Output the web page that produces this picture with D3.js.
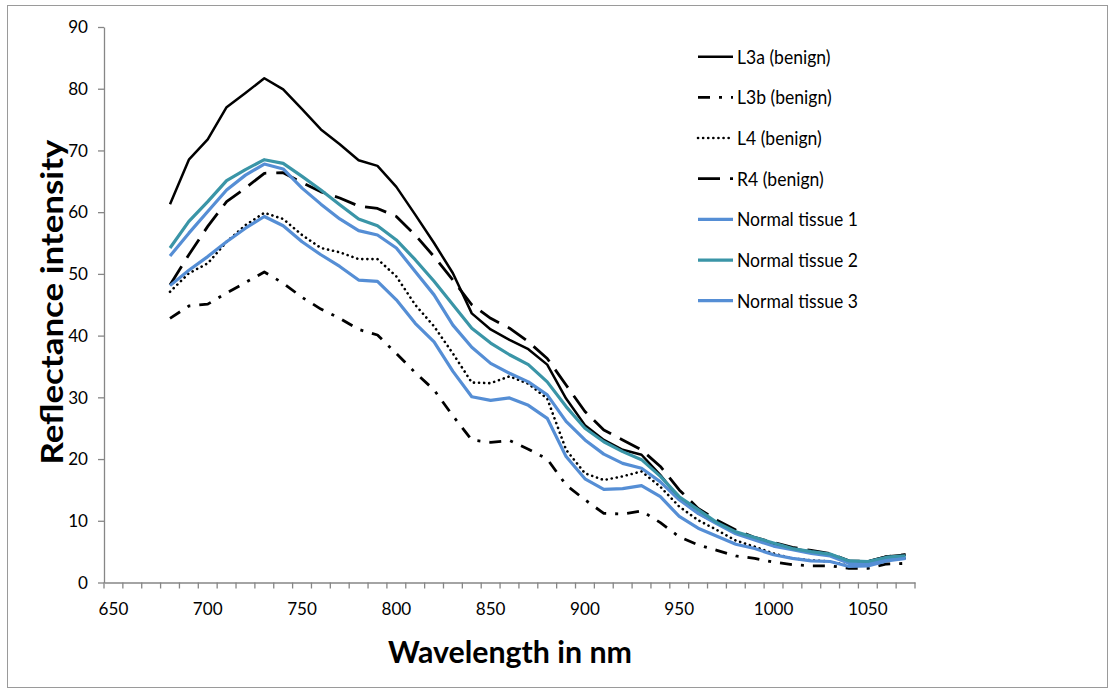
<!DOCTYPE html>
<html>
<head>
<meta charset="utf-8">
<script src="https://cdn.jsdelivr.net/npm/d3@7"></script>
<style>
  body { margin: 0; background: #fff; }
  text { font-family: Lato, "Open Sans", "DejaVu Sans", sans-serif; fill: #000; }
</style>
</head>
<body>
<svg id="chart" width="1115" height="691"></svg>
<script>
// Category axis (nm)
const categories = [650, 660, 670, 680, 690, 700, 710, 720, 730, 740, 750, 760, 770, 780, 790,
  800, 810, 820, 830, 840, 850, 860, 870, 880, 890, 900, 910, 920, 930, 940, 950, 960, 970,
  980, 990, 1000, 1010, 1020, 1030, 1040, 1050, 1060, 1070];
const xTickLabels = [650, 700, 750, 800, 850, 900, 950, 1000, 1050];
const yTickValues = [0, 10, 20, 30, 40, 50, 60, 70, 80, 90];

// Measured wavelengths
const wavelengths = [680, 690, 700, 710, 720, 730, 740, 750, 760, 770, 780, 790, 800, 810, 820,
  830, 840, 850, 860, 870, 880, 890, 900, 910, 920, 930, 940, 950, 960, 970, 980, 990, 1000,
  1010, 1020, 1030, 1040, 1050, 1060, 1070];

// Reflectance intensity per sample
const l3a = [61.3, 68.5, 71.8, 77.0, 79.3, 81.7, 79.9, 76.7, 73.4, 71.0, 68.4, 67.5, 64.1, 59.6,
  55.0, 50.1, 43.6, 41.0, 39.3, 37.8, 35.3, 29.8, 25.5, 23.1, 21.5, 20.7, 17.4, 13.6, 11.2, 9.6,
  8.0, 7.2, 6.2, 5.5, 5.0, 4.6, 3.5, 3.4, 4.2, 4.5];
const l3b = [42.8, 44.8, 45.1, 46.9, 48.6, 50.3, 48.5, 46.2, 44.3, 42.8, 41.0, 40.1, 37.1, 34.0,
  31.2, 27.0, 23.1, 22.7, 23.0, 21.6, 20.0, 15.8, 13.4, 11.2, 11.1, 11.6, 9.7, 7.4, 6.1, 5.2,
  4.3, 3.9, 3.3, 2.9, 2.7, 2.7, 2.3, 2.3, 3.0, 3.1];
const l4 = [47.1, 50.1, 51.7, 55.2, 57.9, 59.9, 58.9, 56.3, 54.2, 53.5, 52.4, 52.4, 49.6, 45.0,
  41.5, 37.1, 32.4, 32.3, 33.4, 32.2, 29.8, 21.5, 17.7, 16.6, 17.2, 18.0, 15.5, 12.3, 10.1, 8.5,
  6.8, 5.8, 4.7, 3.9, 3.6, 3.4, 2.7, 2.8, 3.6, 3.9];
const r4 = [48.2, 53.1, 57.7, 61.7, 63.9, 66.3, 66.4, 64.8, 63.3, 62.3, 61.0, 60.6, 59.3, 56.3,
  52.8, 49.0, 45.0, 42.8, 41.2, 39.0, 36.3, 32.0, 27.7, 24.7, 23.1, 21.5, 18.8, 15.0, 12.0, 10.1,
  8.5, 7.3, 6.5, 5.7, 5.2, 4.7, 3.5, 3.4, 4.2, 4.5];
const normal1 = [52.9, 56.6, 60.1, 63.6, 66.0, 67.8, 67.0, 63.9, 61.3, 58.9, 57.0, 56.3, 54.2,
  50.4, 46.6, 41.7, 38.1, 35.5, 33.9, 32.5, 30.4, 26.1, 23.1, 20.8, 19.3, 18.5, 16.3, 13.4, 11.2,
  9.5, 7.9, 6.9, 5.9, 5.3, 4.7, 4.3, 3.1, 3.0, 3.8, 4.1];
const normal2 = [54.2, 58.5, 61.7, 65.1, 66.9, 68.5, 67.9, 65.8, 63.6, 61.2, 58.9, 57.8, 55.5,
  52.3, 48.8, 45.0, 41.2, 38.8, 36.9, 35.3, 32.5, 28.5, 25.0, 22.8, 21.2, 19.9, 17.2, 13.9, 11.8,
  9.7, 8.2, 7.3, 6.4, 5.5, 5.0, 4.6, 3.5, 3.4, 4.1, 4.3];
const normal3 = [48.1, 50.6, 52.8, 55.2, 57.4, 59.3, 57.8, 55.2, 53.1, 51.2, 49.0, 48.8, 45.8,
  42.0, 39.0, 34.2, 30.1, 29.5, 29.9, 28.7, 26.6, 20.4, 16.8, 15.1, 15.2, 15.7, 13.9, 10.7, 8.8,
  7.5, 6.2, 5.5, 4.5, 3.9, 3.5, 3.4, 2.6, 2.7, 3.5, 3.9];

const seriesNames = ["L3a (benign)", "L3b (benign)", "L4 (benign)", "R4 (benign)",
  "Normal tissue 1", "Normal tissue 2", "Normal tissue 3"];
const seriesValues = [l3a, l3b, l4, r4, normal1, normal2, normal3];

// Line styles
const styles = [
  { color: "#000000", width: 2.5, dash: null, cap: "butt" },
  { color: "#000000", width: 2.8, dash: "12,9,3,9", cap: "butt" },
  { color: "#000000", width: 2.6, dash: "0.1,5", cap: "round" },
  { color: "#000000", width: 2.8, dash: "22,10", cap: "butt" },
  { color: "#558ED5", width: 3.2, dash: null, cap: "butt" },
  { color: "#3A95A7", width: 3.2, dash: null, cap: "butt" },
  { color: "#558ED5", width: 3.2, dash: null, cap: "butt" }
];

const svg = d3.select("#chart");
const axisColor = "#868686";

// Outer frame
svg.append("rect")
  .attr("x", 7.5).attr("y", 5.5)
  .attr("width", 1100).attr("height", 682)
  .attr("fill", "#fff").attr("stroke", "#9a9a9a").attr("stroke-width", 1);

const x = d3.scaleBand().domain(categories).range([104, 915]).padding(0);
const y = d3.scaleLinear().domain([0, 90]).range([582.5, 27]);
const cx = c => x(c) + x.bandwidth() / 2;

// Horizontal squeeze for text, applied about the anchor point
function squeeze(sel, sx, ax) {
  sel.attr("transform", `translate(${ax},0) scale(${sx},1) translate(${-ax},0)`);
}

// Y axis
const yAxis = svg.append("g")
  .attr("transform", "translate(104,0)")
  .call(d3.axisLeft(y).tickValues(yTickValues).tickSize(6).tickSizeOuter(0).tickPadding(10));
yAxis.select(".domain").attr("stroke", axisColor).attr("stroke-width", 1.3);
yAxis.selectAll(".tick line").attr("stroke", axisColor).attr("stroke-width", 1.3);
yAxis.selectAll(".tick text")
  .style("font-size", "18px").attr("fill", "#000")
  .each(function () { squeeze(d3.select(this), 0.95, -16); });

// X axis: line and labels
const xAxis = svg.append("g")
  .attr("transform", "translate(0,582.5)")
  .call(d3.axisBottom(x).tickValues(xTickLabels).tickSize(0).tickSizeOuter(0).tickPadding(0));
xAxis.select(".domain").attr("stroke", axisColor).attr("stroke-width", 1.3);
xAxis.selectAll(".tick text")
  .style("font-size", "18px").attr("fill", "#000")
  .attr("y", 26).attr("dy", "0.35em")
  .each(function () { squeeze(d3.select(this), 0.95, 0); });

// X tick marks at category boundaries
const edges = categories.map(c => x(c)).concat([x(categories[categories.length - 1]) + x.bandwidth()]);
xAxis.selectAll(".edge-tick").data(edges).join("line")
  .attr("class", "edge-tick")
  .attr("x1", d => d).attr("x2", d => d)
  .attr("y1", 0).attr("y2", 6)
  .attr("stroke", axisColor).attr("stroke-width", 1.3);

// Series lines
const line = d3.line()
  .x((d, i) => cx(wavelengths[i]))
  .y(d => y(d));

svg.append("g").selectAll("path").data(seriesValues).join("path")
  .attr("d", d => line(d))
  .attr("fill", "none")
  .attr("stroke", (d, i) => styles[i].color)
  .attr("stroke-width", (d, i) => styles[i].width)
  .attr("stroke-dasharray", (d, i) => styles[i].dash)
  .attr("stroke-linecap", (d, i) => styles[i].cap)
  .attr("stroke-linejoin", "round");

// Legend
const legendY = d3.scalePoint().domain(seriesNames).range([56.7, 300.7]);
const legend = svg.append("g");
const items = legend.selectAll("g").data(seriesNames).join("g")
  .attr("transform", d => `translate(0,${legendY(d)})`);
items.append("line")
  .attr("x1", 698).attr("x2", 733).attr("y1", 0).attr("y2", 0)
  .attr("stroke", (d, i) => styles[i].color)
  .attr("stroke-width", (d, i) => styles[i].width)
  .attr("stroke-dasharray", (d, i) => styles[i].dash)
  .attr("stroke-linecap", (d, i) => styles[i].cap);
items.append("text")
  .attr("x", 737).attr("y", 0).attr("dy", "0.35em")
  .style("font-size", "19.5px")
  .text(d => d)
  .each(function () { squeeze(d3.select(this), 0.9, 737); });

// Axis titles
svg.append("text")
  .attr("transform", "translate(52,302) rotate(-90)")
  .attr("text-anchor", "middle").attr("dy", "0.35em")
  .style("font-size", "31px").style("font-weight", "bold")
  .attr("textLength", 325).attr("lengthAdjust", "spacingAndGlyphs")
  .text("Reflectance intensity");

svg.append("text")
  .attr("x", 510).attr("y", 652)
  .attr("text-anchor", "middle").attr("dy", "0.35em")
  .style("font-size", "31px").style("font-weight", "bold")
  .attr("textLength", 244).attr("lengthAdjust", "spacingAndGlyphs")
  .text("Wavelength in nm");
</script>
</body>
</html>
